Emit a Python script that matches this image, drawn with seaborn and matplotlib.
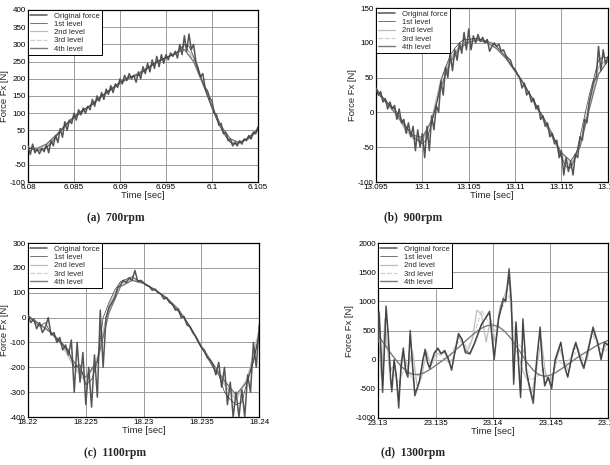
import numpy as np
import matplotlib
matplotlib.use('Agg')
import matplotlib.pyplot as plt
from matplotlib.ticker import FuncFormatter
import seaborn as sns

# ---------------- (a) 700rpm ----------------
t_a = (6.08, 6.105)
force_a = [5, -20, 10, -15, -5, -18, -2, -12, 8, -15,
           20, 5, 35, 15, 55, 30, 75, 50, 80, 70,
           100, 80, 110, 95, 115, 100, 120, 110, 140, 120,
           150, 135, 160, 140, 170, 155, 180, 160, 185, 175,
           200, 185, 210, 195, 215, 200, 210, 190, 220, 200,
           235, 215, 245, 220, 255, 230, 265, 235, 270, 245,
           270, 255, 275, 265, 280, 260, 300, 270, 325, 280,
           330, 285, 300, 250, 230, 205, 215, 175, 165, 145,
           135, 100, 95, 65, 70, 40, 45, 20, 25, 5,
           15, 5, 20, 10, 25, 20, 35, 25, 45, 40,
           60]
lvl1_a = [0, -5, -8, -6, 0, 12, 30, 48, 65, 78, 90, 100, 110, 118, 125, 138, 150,
          160, 170, 180, 190, 198, 205, 207, 210, 220, 230, 240, 250, 256, 262, 267,
          272, 285, 300, 295, 265, 225, 190, 150, 115, 82, 55, 32, 15, 10, 15, 22,
          30, 42, 55]
lvl2_a = [0, -8, 0, 30, 65, 90, 110, 125, 150, 170, 190, 205, 210, 230, 250, 262,
          272, 298, 262, 190, 115, 55, 15, 15, 30, 55]
lvl3_a = [0, -5, 5, 32, 62, 88, 108, 127, 148, 168, 188, 203, 213, 230, 248, 262,
          275, 292, 255, 188, 118, 58, 20, 14, 28, 52]
lvl4_a = [-2, -2, 10, 35, 62, 86, 106, 128, 148, 167, 186, 202, 216, 232, 247, 261,
          274, 285, 250, 186, 120, 62, 25, 14, 26, 50]

# ---------------- (b) 900rpm ----------------
t_b = (13.095, 13.12)
force_b = [35, 25, 30, 15, 20, 5, 15, 5, 10, -10,
           5, -15, -10, -30, -15, -35, -20, -55, -25, -50,
           -30, -65, -20, -55, -5, -25, 10, 0, 45, 25,
           65, 50, 85, 60, 90, 75, 100, 85, 115, 90,
           120, 90, 110, 100, 112, 102, 108, 100, 105, 88,
           95, 100, 95, 98, 88, 90, 82, 78, 75, 65,
           62, 55, 50, 35, 42, 25, 30, 15, 20, 5,
           10, -10, -5, -20, -15, -35, -30, -45, -40, -65,
           -55, -90, -65, -85, -70, -90, -60, -65, -35, -40,
           -10, -15, 15, 30, 45, 50, 95, 60, 90, 70,
           80]
lvl1_b = [35, 25, 18, 10, 5, -5, -15, -25, -35, -40, -45, -38, -15, 10, 45, 65, 82,
          92, 100, 105, 105, 106, 106, 104, 102, 100, 95, 88, 80, 70, 60, 50, 40,
          28, 18, 5, -5, -18, -30, -45, -65, -78, -80, -65, -35, -5, 25, 50, 75,
          80, 78]
lvl2_b = [35, 15, 5, -22, -38, -42, -10, 48, 78, 95, 105, 106, 102, 92, 78, 58,
          38, 15, -10, -35, -65, -78, -45, 15, 65, 78]
lvl3_b = [33, 18, 3, -20, -36, -40, -12, 42, 76, 94, 103, 105, 101, 92, 78, 59,
          38, 14, -10, -36, -62, -74, -48, 10, 60, 76]
lvl4_b = [30, 16, 0, -18, -33, -36, -12, 36, 72, 92, 101, 104, 100, 92, 78, 60,
          40, 16, -8, -34, -58, -70, -50, 5, 55, 74]

# ---------------- (c) 1100rpm ----------------
t_c = (18.22, 18.24)
force_c = [10, -20, -5, -45, -20, -60, -40, 0, -70, -60,
           -100, -80, -130, -110, -150, -90, -300, -100, -260, -140,
           -350, -200, -360, -150, -320, 30, -200, 0, 40, 60,
           80, 120, 130, 150, 140, 160, 150, 190, 145, 150,
           140, 130, 125, 110, 115, 100, 95, 75, 80, 60,
           55, 30, 35, 0, 5, -30, -35, -60, -75, -100,
           -120, -130, -160, -170, -190, -230, -180, -280, -200, -350,
           -260, -400, -300, -400, -290, -400, -230, -300, -100, -200,
           -30]
lvl1_c = [10, -15, -35, -20, -65, -85, -110, -130, -200, -190, -270, -250, -180, 0,
          60, 110, 145, 155, 165, 150, 140, 125, 110, 95, 75, 50, 25, 0, -35, -75,
          -120, -160, -200, -230, -300, -330, -350, -340, -250, -180, -60]
lvl2_c = [10, -30, -60, -115, -200, -260, -160, 50, 140, 160, 140, 112, 78, 30, -40,
          -120, -190, -270, -330, -240, -50]
lvl3_c = [8, -25, -62, -110, -190, -250, -170, 30, 135, 155, 140, 112, 78, 32, -38,
          -118, -188, -260, -320, -250, -70]
lvl4_c = [5, -25, -60, -105, -180, -240, -175, 20, 125, 150, 138, 112, 80, 34, -35,
          -115, -185, -255, -310, -255, -80]

# ---------------- (d) 1300rpm ----------------
t_d = [23.1300, 23.1301, 23.13025, 23.1304, 23.1306, 23.1307, 23.1309, 23.1311,
       23.1312, 23.1314, 23.1316, 23.1318, 23.1320, 23.1322, 23.1324, 23.1326,
       23.1328, 23.1330, 23.1332, 23.1334, 23.1336, 23.1339, 23.1341, 23.1343,
       23.1345, 23.1347, 23.1349, 23.1352, 23.1355, 23.1358, 23.1361, 23.1364,
       23.1367, 23.1370, 23.1373, 23.1376, 23.1380, 23.1384, 23.1390, 23.1397,
       23.1401, 23.1405, 23.1409, 23.1411, 23.1414, 23.1416, 23.1418, 23.1420,
       23.1422, 23.1424, 23.1426, 23.1429, 23.1432, 23.1435, 23.1438, 23.1441,
       23.1443, 23.1445, 23.1448, 23.1451, 23.1454, 23.1459, 23.1462, 23.1465,
       23.1469, 23.1472, 23.1476, 23.1479, 23.1483, 23.1487, 23.1491, 23.1494,
       23.1497, 23.1500]
force_d = [300, 820, 200, -560, 400, 920, 400, -350, -550, 0, -300, -830, -100, 200,
           -200, -300, 500, -100, -620, -500, -380, 0, 180, -50, -150, 0, 120, 200,
           100, 160, 20, -180, 150, 450, 350, 120, 100, 280, 600, 830, 0, 740, 1050,
           1000, 1560, 1000, -420, 650, 0, -650, 700, -200, -500, -750, 0, 560,
           -100, -450, -300, -500, 0, 300, -100, -300, 100, 300, 0, -150, 200, 560,
           300, 0, 300, 250]
lvl1_d = [350, 750, 150, -480, 350, 850, 420, -300, -480, -20, -280, -700, -120, 150,
          -150, -250, 420, -80, -550, -480, -350, -20, 150, -40, -120, -10, 100, 180,
          110, 140, 30, -150, 130, 420, 360, 150, 120, 300, 620, 800, 60, 700, 1000,
          1020, 1450, 980, -350, 600, 20, -600, 620, -180, -480, -680, -20, 520,
          -80, -420, -300, -450, -20, 280, -80, -280, 80, 280, 20, -120, 180, 520,
          300, 30, 280, 260]
t2_d = [23.1300, 23.1303, 23.1306, 23.1310, 23.1314, 23.1318, 23.1322, 23.1326,
        23.1330, 23.1334, 23.1338, 23.1342, 23.1346, 23.1350, 23.1354, 23.1358,
        23.1362, 23.1366, 23.1370, 23.1374, 23.1378, 23.1382, 23.1386, 23.1390,
        23.1394, 23.1398, 23.1402, 23.1406, 23.1410, 23.1414, 23.1418, 23.1422,
        23.1426, 23.1430, 23.1434, 23.1438, 23.1442, 23.1446, 23.1450, 23.1454,
        23.1458, 23.1462, 23.1466, 23.1470, 23.1474, 23.1478, 23.1482, 23.1486,
        23.1490, 23.1494, 23.1498, 23.1500]
lvl2_d = [500, -300, 700, -200, -100, -600, 100, -150, 150, -450, -300, 150, -100, 80,
          120, 120, -60, 50, 400, 250, 150, 350, 850, 780, 300, 700, 300, 900, 1100,
          1350, 200, 100, -200, -350, -550, -150, 350, -300, -400, -100, 200, -50,
          -200, 200, 200, -120, 0, 480, 350, 50, 250, 280]
t3_d = [23.1300, 23.1306, 23.1312, 23.1318, 23.1324, 23.1330, 23.1336, 23.1342,
        23.1348, 23.1354, 23.1360, 23.1366, 23.1372, 23.1378, 23.1384, 23.1390,
        23.1396, 23.1402, 23.1408, 23.1414, 23.1420, 23.1426, 23.1432, 23.1438,
        23.1444, 23.1450, 23.1456, 23.1462, 23.1468, 23.1474, 23.1480, 23.1486,
        23.1492, 23.1498, 23.1500]
lvl3_d = [500, 400, -200, -400, -100, -350, -250, 50, -50, 100, -50, 200, 350, 200,
          450, 850, 650, 500, 900, 1100, 300, 200, -350, -300, -150, -400, 0, -100,
          50, 150, -50, 450, 200, 150, 200]
# 4th level sampled every 0.5 ms from 23.130 to 23.150
lvl4_d = [420, 280, 140, 10, -110, -200, -250, -255, -225, -170, -100, -30, 40, 120,
          210, 300, 390, 470, 540, 585, 595, 565, 490, 380, 240, 90, -60, -180,
          -260, -285, -265, -215, -150, -80, -10, 60, 120, 180, 240, 290, 330]
t_d_span = (23.13, 23.15)

labels = ['Original force', '1st level', '2nd level', '3rd level', '4th level']
captions = ['(a)  700rpm', '(b)  900rpm', '(c)  1100rpm', '(d)  1300rpm']

# line style per series: colour, width, dash, zorder
styles = {'Original force': ('#555555', 1.1, '-', 3),
          '1st level': ('#3c3c3c', 0.5, '-', 4),
          '2nd level': ('#bdbdbd', 0.9, '-', 2.2),
          '3rd level': ('#cfcfcf', 0.9, '--', 2.1),
          '4th level': ('#7a7a7a', 1.0, '-', 2.3)}


def grid_time(span, vals):
  return np.linspace(span[0], span[1], len(vals))


panels = [
  dict(series=[(grid_time(t_a, force_a), force_a), (grid_time(t_a, lvl1_a), lvl1_a),
               (grid_time(t_a, lvl2_a), lvl2_a), (grid_time(t_a, lvl3_a), lvl3_a),
               (grid_time(t_a, lvl4_a), lvl4_a)],
       xlim=t_a, xticks=np.arange(6.08, 6.1051, 0.005), ylim=(-100, 400), ystep=50,
       pos=[0.0459, 0.6086, 0.377, 0.370]),
  dict(series=[(grid_time(t_b, force_b), force_b), (grid_time(t_b, lvl1_b), lvl1_b),
               (grid_time(t_b, lvl2_b), lvl2_b), (grid_time(t_b, lvl3_b), lvl3_b),
               (grid_time(t_b, lvl4_b), lvl4_b)],
       xlim=t_b, xticks=np.arange(13.095, 13.1201, 0.005), ylim=(-100, 150), ystep=50,
       pos=[0.6164, 0.6086, 0.380, 0.374]),
  dict(series=[(grid_time(t_c, force_c), force_c), (grid_time(t_c, lvl1_c), lvl1_c),
               (grid_time(t_c, lvl2_c), lvl2_c), (grid_time(t_c, lvl3_c), lvl3_c),
               (grid_time(t_c, lvl4_c), lvl4_c)],
       xlim=t_c, xticks=np.arange(18.22, 18.2401, 0.005), ylim=(-400, 300), ystep=100,
       pos=[0.0459, 0.1032, 0.379, 0.374]),
  dict(series=[(np.array(t_d), force_d), (np.array(t_d), lvl1_d),
               (np.array(t2_d), lvl2_d), (np.array(t3_d), lvl3_d),
               (grid_time(t_d_span, lvl4_d), lvl4_d)],
       xlim=t_d_span, xticks=np.arange(23.13, 23.1501, 0.005), ylim=(-1000, 2000),
       ystep=500, pos=[0.6197, 0.1011, 0.377, 0.376]),
]
caption_xy = [(0.190, 0.531), (0.677, 0.531), (0.189, 0.026), (0.677, 0.026)]

sns.set_style('white')
plt.rcParams['font.family'] = ['Liberation Sans', 'DejaVu Sans']

fig = plt.figure(figsize=(6.1, 4.65), dpi=100)
fmt = FuncFormatter(lambda v, pos: f'{round(v, 4):g}')

for p, cap, cxy in zip(panels, captions, caption_xy):
  ax = fig.add_axes(p['pos'])
  for (tt, vv), lab in zip(p['series'], labels):
    col, lw, ls, zo = styles[lab]
    sns.lineplot(x=tt, y=vv, ax=ax, color=col, linewidth=lw, linestyle=ls,
                 label=lab, zorder=zo, estimator=None)
  ax.set_xlim(*p['xlim'])
  ax.set_ylim(*p['ylim'])
  ax.set_xticks(p['xticks'])
  ax.set_yticks(np.arange(p['ylim'][0], p['ylim'][1] + 1, p['ystep']))
  ax.xaxis.set_major_formatter(fmt)
  ax.yaxis.set_major_formatter(fmt)
  ax.grid(True, color='#9a9a9a', linewidth=0.7, linestyle='-')
  ax.set_axisbelow(True)
  for s in ax.spines.values():
    s.set_color('black')
    s.set_linewidth(0.9)
  ax.tick_params(axis='both', direction='in', length=2, width=0.6, labelsize=5.8,
                 pad=1.5, colors='black')
  ax.set_xlabel('Time [sec]', fontsize=6.8, labelpad=0)
  ax.set_ylabel('Force Fx [N]', fontsize=6.8, labelpad=1)
  leg = ax.legend(loc='upper left', bbox_to_anchor=(0, 1), borderaxespad=0,
                  fancybox=False, edgecolor='black', framealpha=1, fontsize=5.5,
                  handlelength=2.2, labelspacing=0.12, borderpad=0.3,
                  handletextpad=0.9)
  leg.get_frame().set_linewidth(0.7)
  fig.text(cxy[0], cxy[1], cap, ha='center', va='center', fontsize=8.3,
           fontweight='bold', family='Liberation Serif')

plt.savefig('out.png', dpi=100)
plt.close(fig)
